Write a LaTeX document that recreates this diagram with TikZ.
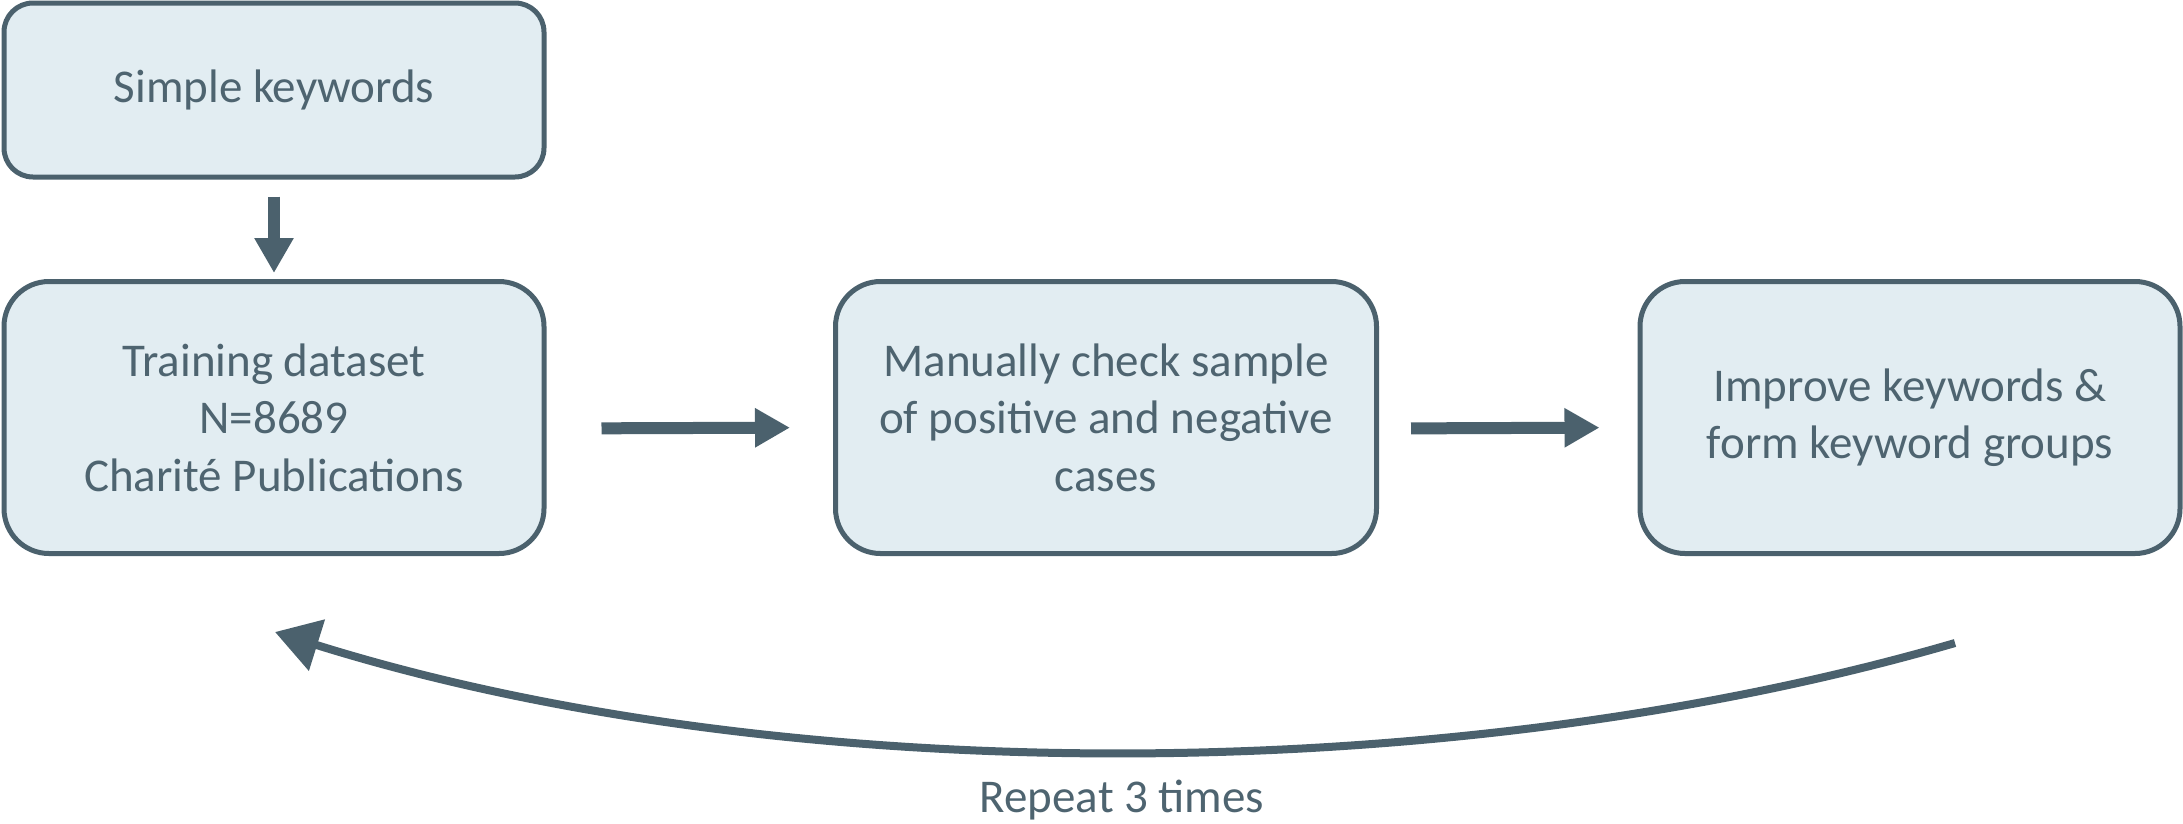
\documentclass[tikz,border=0pt]{standalone}
\usepackage{fontspec}
\setmainfont{Carlito}
\usetikzlibrary{arrows.meta}
\definecolor{slate}{HTML}{4B616D}
\definecolor{boxfill}{HTML}{E2EDF2}
\definecolor{txt}{HTML}{4E6470}
\tikzset{
  stepbox/.style={draw=slate, fill=boxfill, line width=5pt, rounded corners=#1,
    align=center, text=txt, inner sep=0pt,
    font=\fontsize{47}{57.5}\selectfont},
  bigarrow/.style={draw=slate, line width=12pt, -{Triangle[length=35pt,width=37pt]}},
  looparrow/.style={draw=slate, line width=8pt, -{Triangle[length=44pt,width=52pt]}},
}
\begin{document}
\begin{tikzpicture}[x=1pt,y=-1pt]
\useasboundingbox (0,0) rectangle (2183,823);
\node[stepbox=29pt, minimum width=540pt, minimum height=174pt] (kw) at (274,90) {Simple keywords};
\node[stepbox=45pt, minimum width=540pt, minimum height=272pt] (train) at (274,417.5) {Training dataset\\N=8689\\Charité Publications};
\node[stepbox=45pt, minimum width=541pt, minimum height=272pt] (mid) at (1106,417.5) {Manually check sample\\of positive and negative\\cases};
\node[stepbox=45pt, minimum width=540pt, minimum height=272pt] (impr) at (1910,417.5) {Improve keywords \&\\form keyword groups};
\draw[bigarrow, shorten <=17pt, shorten >=6pt] (kw.south) -- (train.north);
\draw[bigarrow, shorten <=55pt, shorten >=43pt] ([yshift=-11pt]train.east) -- ([yshift=-10pt]mid.west);
\draw[bigarrow, shorten <=32pt, shorten >=38pt] ([yshift=-11pt]mid.east) -- ([yshift=-10pt]impr.west);
\coordinate (cs) at (1955,643);
\coordinate (ce) at (275,632);
\draw[looparrow] (cs) .. controls (1450,790) and (780,790) .. (ce);
\node[text=txt, font=\fontsize{47}{57.5}\selectfont] (rep) at (1122,800) {Repeat 3 times};
\end{tikzpicture}
\end{document}
